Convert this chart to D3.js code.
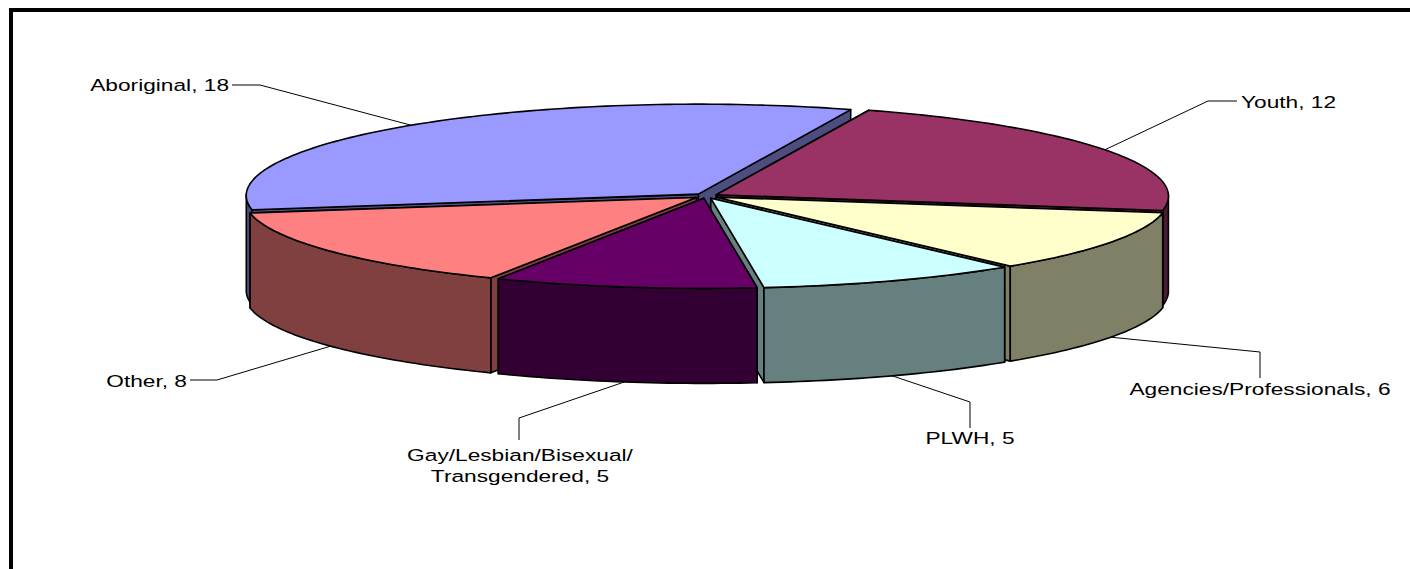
<!DOCTYPE html>
<html>
<head>
<meta charset="utf-8">
<style>
html,body{margin:0;padding:0;background:#fff;overflow:hidden}
svg{display:block}
text{font-family:"Liberation Sans",Arial,sans-serif;font-size:17px;fill:#000}
</style>
<script src="https://cdn.jsdelivr.net/npm/d3@7/dist/d3.min.js"></script>
</head>
<body>
<svg id="chart" width="1410" height="569"></svg>
<script>
// Clockwise from the first wedge behind the centre line.
const categories = ["Youth", "Agencies/Professionals", "PLWH", "Gay/Lesbian/Bisexual/ Transgendered", "Other", "Aboriginal"];
const values = [12, 6, 5, 5, 8, 18];
const topColors = ["#993366", "#FFFFCC", "#CCFFFF", "#660066", "#FF8080", "#9999FF"];
const wallColors = ["#4D1A33", "#808066", "#668080", "#330033", "#804040", "#4D4D80"];
// Back wedges are painted first so nearer ones overlap them.
const paintOrder = ["Aboriginal", "Youth", "Other", "Agencies/Professionals", "PLWH", "Gay/Lesbian/Bisexual/ Transgendered"];

// Label placement: text anchor, line start and elbow for each wedge.
const labelLayout = {
  "Youth": {lines: ["Youth, 12"], x: 1241, y: 108, anchor: "start", from: [1237, 101], elbow: [1208, 101], side: "top"},
  "Agencies/Professionals": {lines: ["Agencies/Professionals, 6"], x: 1260, y: 395, anchor: "middle", from: [1260, 378], elbow: [1260, 352], side: "bottom"},
  "PLWH": {lines: ["PLWH, 5"], x: 970, y: 444, anchor: "middle", from: [970, 428], elbow: [970, 402], side: "bottom"},
  "Gay/Lesbian/Bisexual/ Transgendered": {lines: ["Gay/Lesbian/Bisexual/", "Transgendered, 5"], x: 520, y: 461, anchor: "middle", from: [519, 440], elbow: [519, 418], side: "bottom"},
  "Other": {lines: ["Other, 8"], x: 187, y: 387, anchor: "end", from: [190, 380], elbow: [217, 380], side: "bottom"},
  "Aboriginal": {lines: ["Aboriginal, 18"], x: 229, y: 91, anchor: "end", from: [232, 85], elbow: [260, 85], side: "top"}
};

const centerX = 706, centerY = 196, radiusX = 452, radiusY = 90, depth = 95, explode = 12 / 452;
const foreshorten = 0.015; // wedges nearer the viewer spread slightly wider
const textStretch = 1.335, lineGap = 21;

const svg = d3.select("#chart");

// Unit circle coordinates map onto the tilted ellipse through two linear scales.
const px = d3.scaleLinear().domain([-1, 1]).range([centerX - radiusX, centerX + radiusX]);
const py = d3.scaleLinear().domain([-1, 1]).range([centerY - radiusY, centerY + radiusY]);

const pie = d3.pie().sort(null).startAngle(20 * Math.PI / 180).endAngle(380 * Math.PI / 180);
const arcs = pie(values).map((a, i) => ({
  ...a,
  name: categories[i],
  top: topColors[i],
  wall: wallColors[i],
  mid: (a.startAngle + a.endAngle) / 2
}));

const path = d3.line().x(d => d[0]).y(d => d[1]);

function wedgePoint(d, angle, r, drop) {
  const ox = explode * Math.sin(d.mid), oy = -explode * Math.cos(d.mid);
  const spread = 1 - foreshorten * r * Math.cos(angle);
  return [px(ox + r * Math.sin(angle) * spread), py(oy - r * Math.cos(angle)) + (drop || 0)];
}
function sweep(a0, a1) {
  const n = Math.max(2, Math.ceil(Math.abs(a1 - a0) / 0.02));
  return d3.range(n + 1).map(k => a0 + (a1 - a0) * k / n);
}

// Frame around the chart area, open at the page edges.
svg.append("rect").attr("x", 11).attr("y", 10).attr("width", 1420).attr("height", 600)
  .attr("fill", "none").attr("stroke", "#000").attr("stroke-width", 4);

const byName = new Map(arcs.map(d => [d.name, d]));
const slices = svg.append("g").selectAll("g")
  .data(paintOrder.map(n => byName.get(n)))
  .join("g")
  .attr("stroke", "#000").attr("stroke-width", 1.6).attr("stroke-linejoin", "round");

slices.each(function (d) {
  const g = d3.select(this);
  const apex = wedgePoint(d, 0, 0);
  // Radial walls, the one nearer the viewer last
  [d.startAngle, d.endAngle]
    .map(a => wedgePoint(d, a, 1))
    .sort((p, q) => p[1] - q[1])
    .forEach(outer => {
      g.append("path").attr("fill", d.wall).attr("d", path([
        apex, outer, [outer[0], outer[1] + depth], [apex[0], apex[1] + depth]
      ]) + "Z");
    });
  // Outer rim: only the part facing the viewer
  const lo = Math.PI / 2, hi = 3 * Math.PI / 2;
  const a0 = Math.max(d.startAngle, lo), a1 = Math.min(d.endAngle, hi);
  if (a1 > a0) {
    const upper = sweep(a0, a1).map(a => wedgePoint(d, a, 1));
    const lower = sweep(a1, a0).map(a => wedgePoint(d, a, 1, depth));
    g.append("path").attr("fill", d.wall).attr("d", path(upper.concat(lower)) + "Z");
  }
  // Top face
  const rim = sweep(d.startAngle, d.endAngle).map(a => wedgePoint(d, a, 1));
  g.append("path").attr("fill", d.top).attr("d", path([apex].concat(rim)) + "Z");
});

// Leader lines and labels; the lettering is stretched sideways
const labels = svg.append("g");
arcs.forEach(d => {
  const l = labelLayout[d.name];
  const anchorPt = wedgePoint(d, d.mid, 1, l.side === "bottom" ? depth : 0);
  labels.append("path").attr("fill", "none").attr("stroke", "#000").attr("stroke-width", 1)
    .attr("d", path([l.from, l.elbow, anchorPt]));
  l.lines.forEach((s, i) => {
    labels.append("text")
      .attr("transform", `translate(${l.x},${l.y + i * lineGap}) scale(${textStretch},1)`)
      .attr("text-anchor", l.anchor)
      .text(s);
  });
});
</script>
</body>
</html>
